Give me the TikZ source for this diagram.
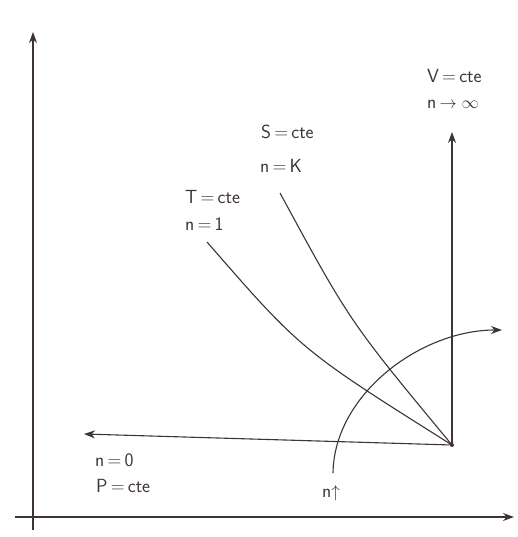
\documentclass[tikz,border=0pt]{standalone}
\usetikzlibrary{arrows.meta}
\definecolor{ink}{HTML}{3E3434}
\begin{document}
\begin{tikzpicture}[x=1pt,y=-1pt,
  ln/.style={draw=ink,line width=1.1pt},
  arr/.style={ln,-{Stealth[length=11pt,width=8pt]}},
  lbl/.style={text=ink,font=\sffamily\fontsize{19}{21}\selectfont,inner sep=0pt,anchor=west}]
\useasboundingbox[fill=white] (0,0) rectangle (517,537);
% axes
\coordinate (ybot) at (33,530);
\coordinate (ytop) at (33,32);
\coordinate (xl) at (15,517);
\coordinate (xr) at (514,517);
\draw[arr] (ybot) -- (ytop);
\draw[arr] (xl) -- (xr);
% state point
\coordinate (c) at (452,445);
\fill[ink] (c) circle (2pt);
\coordinate (pend) at (84,434);
\coordinate (vend) at (452,132);
\coordinate (send) at (280,193);
\coordinate (tend) at (207,242);
\draw[arr] (c) -- (pend);
\draw[arr] (c) -- (vend);
\draw[ln] (c) .. controls (350,322) .. (send);
\draw[ln] (c) .. controls (301,350) .. (tend);
% n increasing arc
\coordinate (a0) at (333,473);
\coordinate (a1) at (502,330);
\draw[arr] (a0) .. controls (334,395) and (420,330) .. (a1);
% labels
\node[lbl] (lv1) at (427,76) {V\,=\,cte};
\node[lbl] (lv2) at (427,104) {n\,$\to\infty$};
\node[lbl] (ls1) at (261,132) {S\,=\,cte};
\node[lbl] (ls2) at (260,166) {n\,=\,K};
\node[lbl] (lt1) at (185,197) {T\,=\,cte};
\node[lbl] (lt2) at (185,224) {n\,=\,1};
\node[lbl] (lp1) at (95,460) {n\,=\,0};
\node[lbl] (lp2) at (96,486) {P\,=\,cte};
\node[lbl] (ln) at (322,493) {n$\uparrow$};
\end{tikzpicture}
\end{document}
